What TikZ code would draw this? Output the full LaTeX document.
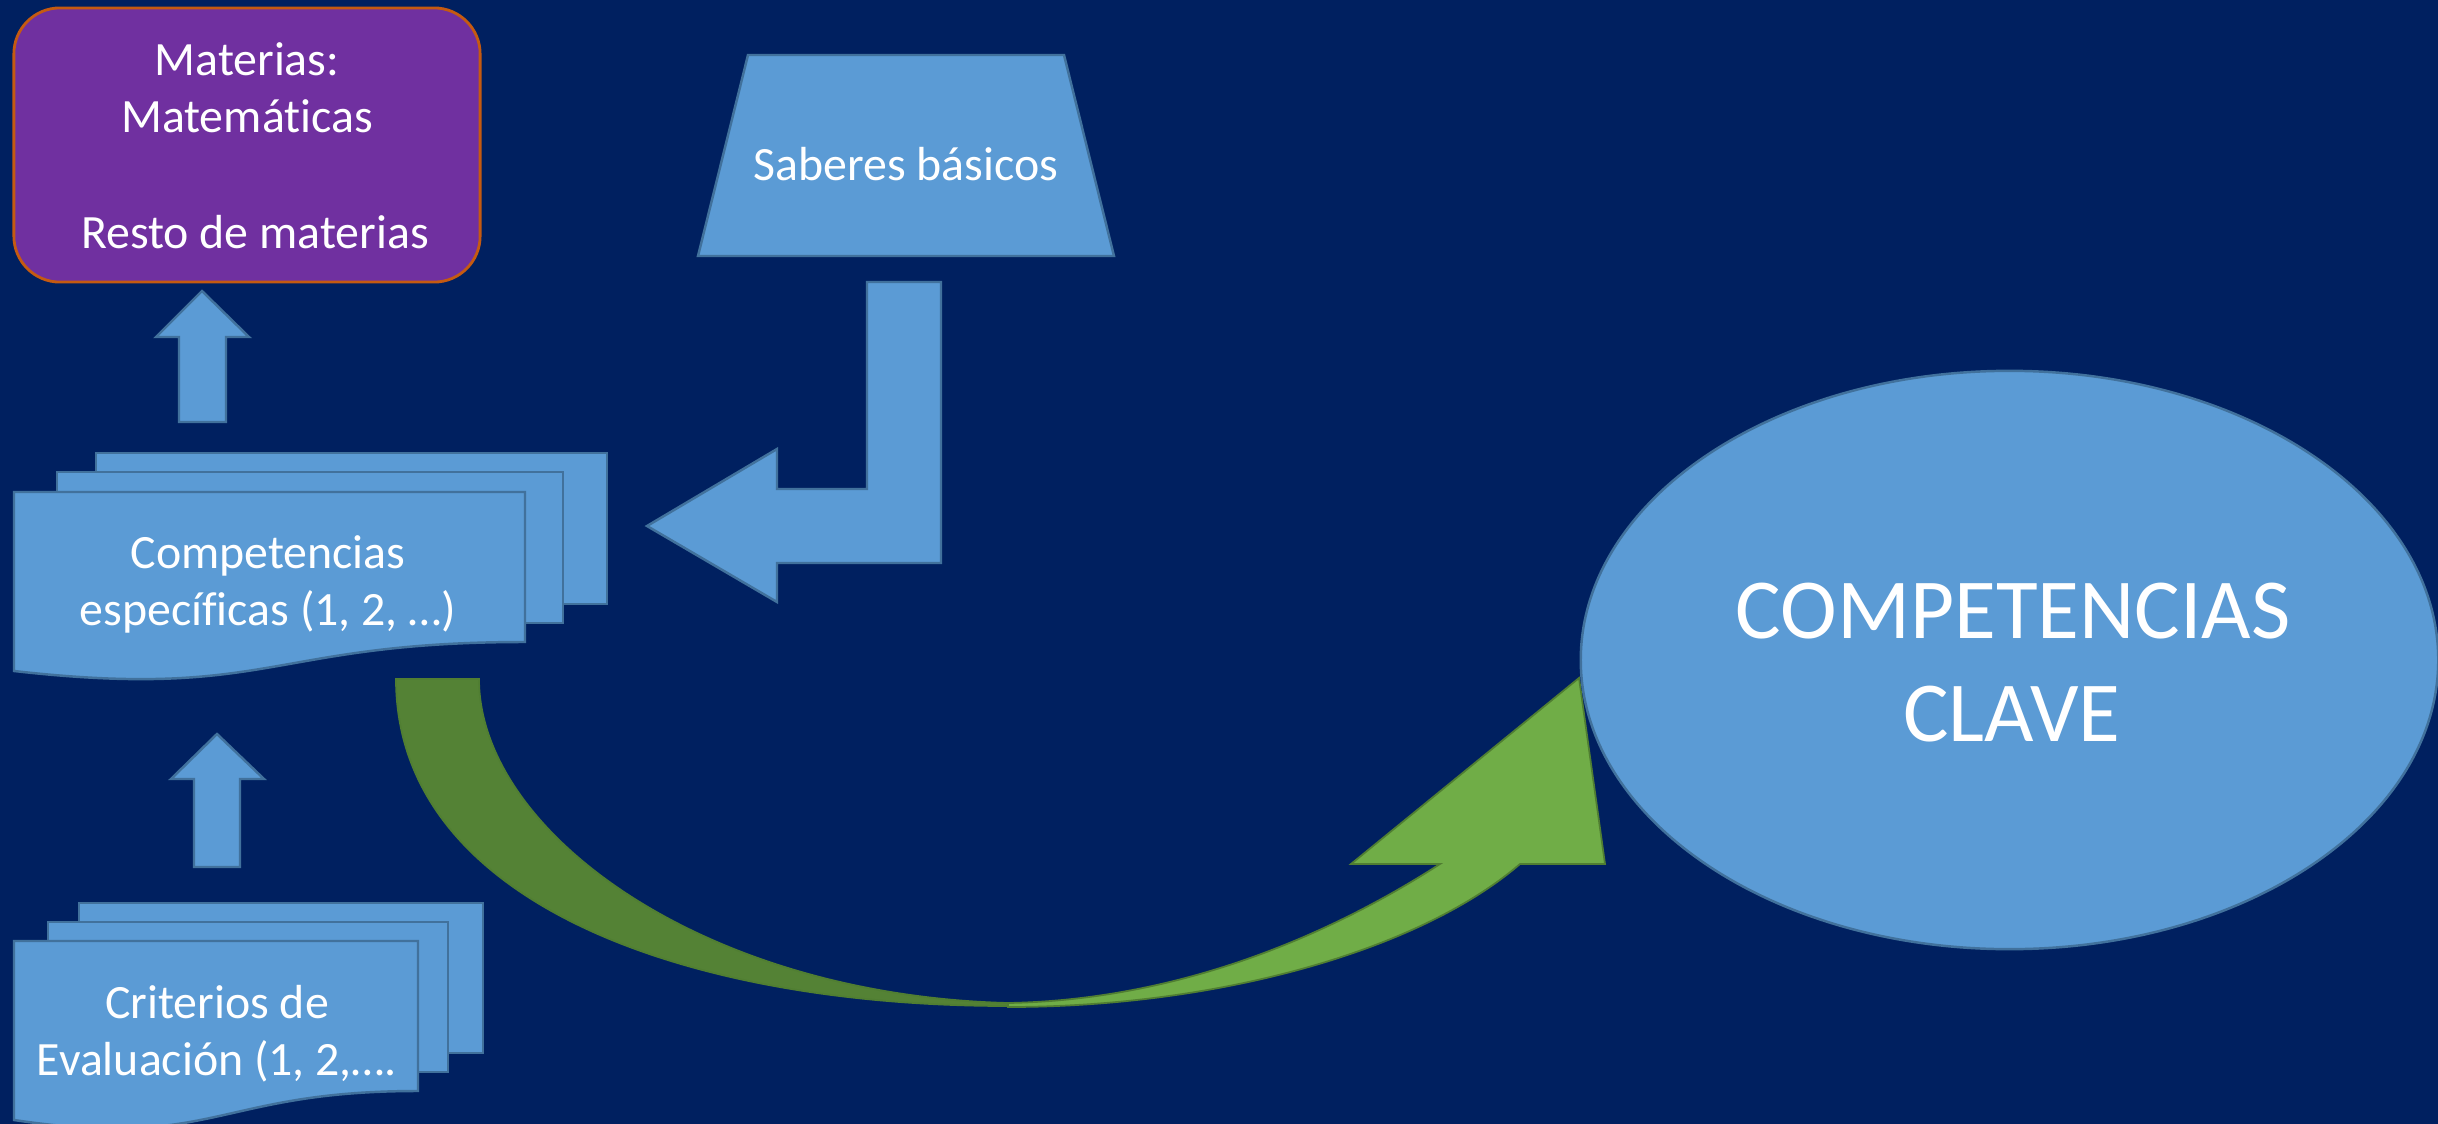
\documentclass[tikz,border=0pt]{standalone}
\usepackage{fontspec}
\setmainfont{Carlito}[Ligatures=NoCommon]
\usetikzlibrary{shapes.geometric}
\definecolor{bg}{HTML}{002060}
\definecolor{bfill}{HTML}{5B9BD5}
\definecolor{bline}{HTML}{41719C}
\definecolor{pfill}{HTML}{7030A0}
\definecolor{pline}{HTML}{C55A11}
\definecolor{gdark}{HTML}{548235}
\definecolor{glight}{HTML}{70AD47}
\definecolor{gline}{HTML}{507E32}
\begin{document}
\begin{tikzpicture}[x=0.01cm,y=-0.01cm,
  blueshape/.style={fill=bfill,draw=bline,line width=0.7pt,line join=miter},
  greenshape/.style={draw=gline,line width=0.5pt,line join=miter},
  txt/.style={text=white,font=\fontsize{13.6}{16}\selectfont,inner sep=0pt,anchor=base},
  bigtxt/.style={text=white,font=\fontsize{24.3}{29}\selectfont,inner sep=0pt,anchor=base}]
\fill[bg] (0,0) rectangle (2438,1124);
\useasboundingbox (0,0) rectangle (2438,1124);

% Materias box
\node[draw=pline,fill=pfill,line width=0.8pt,rounded corners=0.46cm,
      minimum width=4.66cm,minimum height=2.74cm,inner sep=0pt] (materias) at (247,145) {};
\node[txt] (mat1) at (247,75) {Materias:};
\node[txt] (mat2) at (247,132) {Matemáticas};
\node[txt] (mat3) at (255,248) {Resto de materias};

% up arrows
\path[blueshape] (179,422) -- (179,337) -- (156,337) -- (202,291) -- (249,337) -- (226,337) -- (226,422) -- cycle;
\path[blueshape] (194,867) -- (194,779) -- (171,779) -- (217,734) -- (264,779) -- (240,779) -- (240,867) -- cycle;

% Competencias especificas (multidocument)
\path[blueshape] (96,453) rectangle (607,604);
\path[blueshape] (57,472) rectangle (563,623);
\path[blueshape] (14,492) -- (525,492) -- (525,642) .. controls (270,642) and (270,700) .. (14,671) -- cycle;
\node[txt] (ce1) at (268,568) {Competencias};
\node[txt] (ce2) at (268,625) {específicas (1, 2, …)};

% Criterios de evaluacion (multidocument)
\path[blueshape] (79,903) rectangle (483,1053);
\path[blueshape] (48,922) rectangle (448,1072);
\path[blueshape] (14,941) -- (418,941) -- (418,1091) .. controls (216,1091) and (216,1150) .. (14,1120) -- cycle;
\node[txt] (cr1) at (217,1018) {Criterios de};
\node[txt] (cr2) at (217,1075) {Evaluación (1, 2,….};

% Saberes basicos (trapezoid)
\path[blueshape] (748,55) -- (1064,55) -- (1114,256) -- (698,256) -- cycle;
\node[txt] (sab) at (906,180) {Saberes básicos};

% bent arrow
\path[blueshape] (867,282) -- (941,282) -- (941,563) -- (777,563) -- (777,602) -- (647,526)
  -- (777,449) -- (777,489) -- (867,489) -- cycle;

% green curved arrow
\path[greenshape,fill=gdark] (396,679) -- (479,679) .. controls (479,830) and (700,995) .. (1008,1003)
  -- (1008,1006) .. controls (680,1006) and (396,900) .. (396,679) -- cycle;
\path[greenshape,fill=glight] (1008,1003) .. controls (1180,1000) and (1330,935) .. (1440,864)
  -- (1351,864) -- (1579,678) -- (1605,864) -- (1520,864)
  .. controls (1420,950) and (1220,1007) .. (1008,1007) -- cycle;

% Competencias clave
\node[ellipse,blueshape,minimum width=8.57cm,minimum height=5.78cm,inner sep=0pt] (clave) at (2009.5,660) {};
\node[bigtxt] (cc1) at (2013,638) {COMPETENCIAS};
\node[bigtxt] (cc2) at (2012,741) {CLAVE};
\end{tikzpicture}
\end{document}
